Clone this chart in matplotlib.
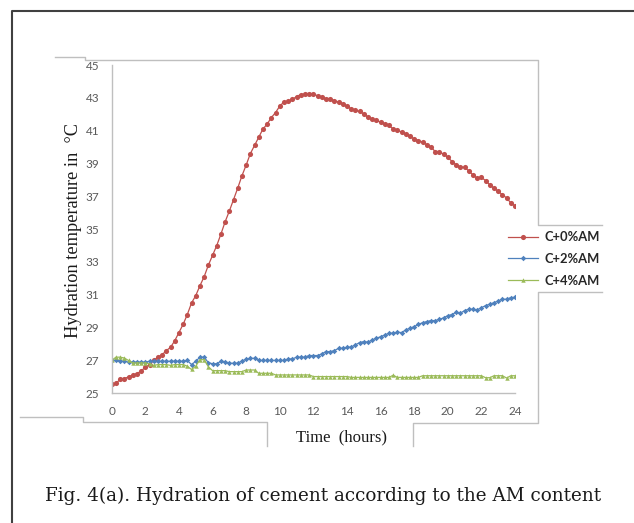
import numpy as np
import matplotlib.pyplot as plt
from matplotlib.lines import Line2D

W, H = 634, 523

# readings every 15 minutes, 0 .. 24 h
hours = np.arange(0, 24.25, 0.25)

c0_am = [25.55, 25.6, 25.85, 25.9, 26.0, 26.1, 26.2, 26.35,
         26.6, 26.75, 27.0, 27.2, 27.35, 27.6, 27.8, 28.2,
         28.7, 29.2, 29.8, 30.5, 30.95, 31.55, 32.1, 32.8,
         33.4, 34.0, 34.7, 35.45, 36.1, 36.8, 37.5, 38.25,
         38.9, 39.6, 40.1, 40.6, 41.1, 41.4, 41.8, 42.1,
         42.5, 42.75, 42.8, 42.9, 43.08, 43.2, 43.22, 43.22,
         43.22, 43.13, 43.05, 42.95, 42.95, 42.82, 42.74, 42.64,
         42.48, 42.34, 42.23, 42.17, 42.03, 41.83, 41.7, 41.62,
         41.52, 41.42, 41.32, 41.1, 41.05, 40.9, 40.8, 40.65,
         40.5, 40.4, 40.3, 40.15, 40.0, 39.73, 39.7, 39.57,
         39.39, 39.12, 38.92, 38.78, 38.76, 38.55, 38.3, 38.1,
         38.15, 37.96, 37.7, 37.5, 37.3, 37.1, 36.9, 36.6,
         36.42]

c2_am = [27.0, 27.0, 26.95, 26.95, 26.9, 26.9, 26.9, 26.9,
         26.9, 26.95, 26.95, 26.95, 26.95, 26.95, 26.95, 26.95,
         26.95, 26.95, 27.0, 26.75, 26.95, 27.2, 27.2, 26.87,
         26.8, 26.8, 26.95, 26.93, 26.83, 26.83, 26.83, 26.97,
         27.07, 27.13, 27.13, 27.0, 27.0, 27.0, 27.0, 27.0,
         27.0, 27.0, 27.09, 27.09, 27.2, 27.2, 27.2, 27.3,
         27.3, 27.3, 27.4, 27.54, 27.54, 27.6, 27.74, 27.74,
         27.8, 27.82, 27.95, 28.09, 28.15, 28.11, 28.25, 28.35,
         28.45, 28.55, 28.66, 28.66, 28.72, 28.7, 28.86, 28.96,
         29.06, 29.2, 29.3, 29.37, 29.43, 29.43, 29.5, 29.6,
         29.73, 29.8, 29.94, 29.88, 30.04, 30.12, 30.12, 30.08,
         30.22, 30.34, 30.43, 30.52, 30.63, 30.73, 30.73, 30.83,
         30.85]

c4_am = [27.0, 27.2, 27.2, 27.15, 27.0, 26.85, 26.85, 26.85,
         26.85, 26.8, 26.7, 26.75, 26.75, 26.75, 26.7, 26.75,
         26.75, 26.75, 26.65, 26.45, 26.65, 27.05, 27.05, 26.62,
         26.38, 26.38, 26.38, 26.38, 26.32, 26.32, 26.32, 26.32,
         26.42, 26.42, 26.42, 26.22, 26.22, 26.22, 26.22, 26.12,
         26.12, 26.12, 26.12, 26.12, 26.12, 26.12, 26.12, 26.12,
         26.02, 26.02, 26.02, 26.02, 26.02, 26.02, 26.02, 26.02,
         26.02, 25.97, 25.97, 25.97, 25.97, 25.97, 25.97, 25.97,
         25.97, 25.97, 25.97, 26.1, 25.97, 25.97, 25.97, 25.97,
         25.97, 25.97, 26.07, 26.07, 26.07, 26.07, 26.07, 26.07,
         26.07, 26.07, 26.07, 26.07, 26.07, 26.07, 26.07, 26.07,
         26.07, 25.95, 25.95, 26.07, 26.07, 26.07, 25.93, 26.07,
         26.07]

labels = ['C+0%AM', 'C+2%AM', 'C+4%AM']
x_ticks = list(range(0, 25, 2))
y_ticks = list(range(25, 46, 2))

fig = plt.figure(figsize=(W / 100, H / 100), dpi=100)


def fx(px):
    return px / W


def fy(py):
    return 1 - py / H


def seg(points, color='#bfbfbf', lw=1.0):
    xs = [fx(p[0]) for p in points]
    ys = [fy(p[1]) for p in points]
    fig.add_artist(Line2D(xs, ys, transform=fig.transFigure, color=color, lw=lw))


# outer page frame
seg([(12, H), (12, 10.5), (W, 10.5)], color='#404040', lw=1.5)

# leftover outlines of the spreadsheet chart boxes
seg([(55, 57), (85, 57), (85, 60), (538, 60), (538, 225), (602, 225)])
seg([(602, 292), (538, 292), (538, 423), (413, 423), (413, 446)])
seg([(20, 417), (83, 417), (83, 422), (267, 422), (267, 446)])

ax = fig.add_axes([fx(111.7), fy(393.3), fx(515) - fx(111.7), fy(65) - fy(393.3)])

ax.plot(hours, c0_am, color='#c0504d', lw=0.9, marker='o', markersize=3.7,
        markeredgewidth=0, label=labels[0])
ax.plot(hours, c2_am, color='#4f81bd', lw=0.9, marker='D', markersize=2.8,
        markeredgewidth=0, label=labels[1])
ax.plot(hours, c4_am, color='#9bbb59', lw=0.9, marker='^', markersize=3.2,
        markeredgewidth=0, label=labels[2])

ax.set_xlim(0, 24)
ax.set_ylim(25, 45)
ax.set_xticks(x_ticks)
ax.set_yticks(y_ticks)
ax.tick_params(length=0, labelsize=8.5, colors='#595959', pad=9)
for t in ax.get_xticklabels() + ax.get_yticklabels():
    t.set_family('Lato')
for side in ['top', 'right']:
    ax.spines[side].set_visible(False)
for side in ['left', 'bottom']:
    ax.spines[side].set_color('#bfbfbf')
    ax.spines[side].set_linewidth(1.0)

fig.text(fx(73), fy(230), 'Hydration temperature in  °C', rotation=90,
         ha='center', va='center', family='Liberation Serif', fontsize=13.2, color='#1a1a1a')
fig.text(fx(342), fy(437), 'Time  (hours)', ha='center', va='center',
         family='Liberation Serif', fontsize=12, color='#1a1a1a')

leg = fig.legend(loc='center left', bbox_to_anchor=(fx(508), fy(259)), frameon=False,
                 prop={'family': 'Lato', 'weight': 'bold', 'size': 9.3},
                 handlelength=2.3, handletextpad=0.5, labelspacing=0.75,
                 borderpad=0, borderaxespad=0)
for t in leg.get_texts():
    t.set_color('#262626')

fig.text(fx(323), fy(496), 'Fig. 4(a). Hydration of cement according to the AM content',
         ha='center', va='center', family='DejaVu Serif', fontsize=13.2, color='#1a1a1a')

fig.savefig('out.png', dpi=100)
